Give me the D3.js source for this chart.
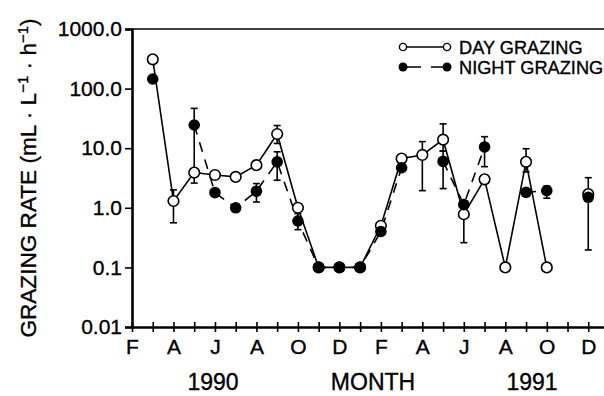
<!DOCTYPE html>
<html>
<head>
<meta charset="utf-8">
<script src="https://cdn.jsdelivr.net/npm/d3@7"></script>
<style>
  body { margin: 0; background: #fff; }
  svg { display: block; font-family: "Liberation Sans", Arial, sans-serif; }
  svg text { stroke: #000; stroke-width: 0.35px; }
</style>
</head>
<body>
<div id="chart"></div>
<script>
// month index 0 = Feb 1990 ... 22 = Dec 1991
const monthIdx = d3.range(0, 23);
const monthLabels = ["F", "A", "J", "A", "O", "D", "F", "A", "J", "A", "O", "D"];
const yTicks = [0.01, 0.1, 1, 10, 100, 1000];
const yTickLabels = ["0.01", "0.1", "1.0", "10.0", "100.0", "1000.0"];

const dayValues = [null, 310, 1.3, 3.9, 3.55, 3.3, 5.2, 17.3, 1.0, 0.1, 0.1, 0.1,
  0.5, 6.7, 7.7, 13.9, 0.78, 3.0, 0.1, 5.9, 0.1, null, 1.7];
const nightValues = [null, 145, null, 24.5, 1.8, 1.0, 1.9, 5.9, 0.6, 0.1, 0.1, 0.1,
  0.4, 4.7, null, 6.0, 1.13, 10.5, null, 1.82, 1.94, null, 1.5];

// error bars: [month index, low, high]
const dayErr = [[2, 0.56, 2.0], [7, 12, 24], [14, 1.94, 12.9], [15, 9, 25.6], [16, 0.26, 1.0], [19, 4, 9.8]];
const nightErr = [[3, 2.6, 46.6], [6, 1.25, 2.55], [7, 2.9, 8.7], [8, 0.43, 0.8], [15, 2.1, 9],
  [17, 4.9, 15.6], [20, 1.45, 2.3], [22, 0.196, 3.2]];

const width = 604, height = 396;
const svg = d3.select("#chart").append("svg")
  .attr("width", width)
  .attr("height", height);

const x = d3.scaleLinear().domain([0, 23]).range([132, 609]);
const y = d3.scaleLog().domain([0.01, 1000]).range([327, 29]);

// top frame line
svg.append("line")
  .attr("x1", 132).attr("x2", width)
  .attr("y1", y(1000)).attr("y2", y(1000))
  .attr("stroke", "#000").attr("stroke-width", 1.6);

// y axis
const yAxis = svg.append("g")
  .attr("transform", `translate(${x(0)},0)`)
  .call(d3.axisLeft(y).tickValues(yTicks)
    .tickFormat((d, i) => yTickLabels[i]).tickSize(7).tickPadding(3));
yAxis.select(".domain").attr("stroke-width", 2.6);
yAxis.selectAll(".tick line").attr("stroke-width", 1.6);
yAxis.selectAll("text").attr("font-size", 21).attr("fill", "#000")
  .attr("font-family", "Liberation Sans, Arial, sans-serif");

// x axis
const xAxis = svg.append("g")
  .attr("transform", `translate(0,${y(0.01)})`)
  .call(d3.axisBottom(x).tickValues(d3.range(0, 24))
    .tickFormat(d => d % 2 === 0 && d / 2 < monthLabels.length ? monthLabels[d / 2] : "")
    .tickSize(5).tickPadding(7).tickSizeOuter(0));
xAxis.select(".domain").attr("stroke-width", 2.6);
xAxis.selectAll(".tick line").attr("y1", -5).attr("stroke-width", 1.6);
xAxis.selectAll("text").attr("font-size", 21).attr("fill", "#000")
  .attr("font-family", "Liberation Sans, Arial, sans-serif");

// bottom labels
const bottomLabels = [[213, "1990"], [373, "MONTH"], [532, "1991"]];
bottomLabels.forEach(([bx, t]) => {
  svg.append("text").attr("x", bx).attr("y", 390).attr("text-anchor", "middle")
    .attr("font-size", 23).text(t);
});

// y title
const yt = svg.append("text")
  .attr("transform", "translate(36,178) rotate(-90)")
  .attr("text-anchor", "middle")
  .attr("font-size", 22.6);
yt.append("tspan").text("GRAZING RATE (mL \u00b7 L");
yt.append("tspan").attr("baseline-shift", "super").attr("font-size", 15).text("\u22121");
yt.append("tspan").text(" \u00b7 h");
yt.append("tspan").attr("baseline-shift", "super").attr("font-size", 15).text("\u22121");
yt.append("tspan").text(")");

const day = monthIdx.map(i => ({i, v: dayValues[i]}));
const night = monthIdx.map(i => ({i, v: nightValues[i]}));

const line = d3.line()
  .defined(d => d.v != null)
  .x(d => x(d.i)).y(d => y(d.v));

svg.append("path").datum(day)
  .attr("d", line).attr("fill", "none")
  .attr("stroke", "#000").attr("stroke-width", 1.6);
svg.append("path").datum(night)
  .attr("d", line).attr("fill", "none")
  .attr("stroke", "#000").attr("stroke-width", 1.6)
  .attr("stroke-dasharray", "10,8");

// error bars
const errG = svg.append("g").attr("stroke", "#000").attr("stroke-width", 1.6);
dayErr.concat(nightErr).forEach(([i, lo, hi]) => {
  errG.append("line").attr("x1", x(i)).attr("x2", x(i)).attr("y1", y(lo)).attr("y2", y(hi));
  [lo, hi].forEach(v => {
    errG.append("line").attr("x1", x(i) - 3.5).attr("x2", x(i) + 3.5)
      .attr("y1", y(v)).attr("y2", y(v));
  });
});

// markers
svg.append("g").selectAll("circle")
  .data(day.filter(d => d.v != null))
  .join("circle")
  .attr("cx", d => x(d.i)).attr("cy", d => y(d.v)).attr("r", 5.3)
  .attr("fill", "#fff").attr("stroke", "#000").attr("stroke-width", 1.6);
svg.append("g").selectAll("circle")
  .data(night.filter(d => d.v != null))
  .join("circle")
  .attr("cx", d => x(d.i)).attr("cy", d => y(d.v)).attr("r", 5.8)
  .attr("fill", "#000");

// legend
const lg = svg.append("g");
lg.append("line").attr("x1", 403).attr("x2", 447).attr("y1", 47).attr("y2", 47)
  .attr("stroke", "#000").attr("stroke-width", 1.4);
[403, 447].forEach(cx => lg.append("circle").attr("cx", cx).attr("cy", 47).attr("r", 3.6)
  .attr("fill", "#fff").attr("stroke", "#000").attr("stroke-width", 1.4));
lg.append("line").attr("x1", 403).attr("x2", 447).attr("y1", 67).attr("y2", 67)
  .attr("stroke", "#000").attr("stroke-width", 1.4).attr("stroke-dasharray", "18,10,16");
[403, 447].forEach(cx => lg.append("circle").attr("cx", cx).attr("cy", 67).attr("r", 4.5)
  .attr("fill", "#000"));
lg.append("text").attr("x", 459).attr("y", 54).attr("font-size", 18.2).text("DAY GRAZING");
lg.append("text").attr("x", 459).attr("y", 74).attr("font-size", 18.2).text("NIGHT GRAZING");
</script>
</body>
</html>
